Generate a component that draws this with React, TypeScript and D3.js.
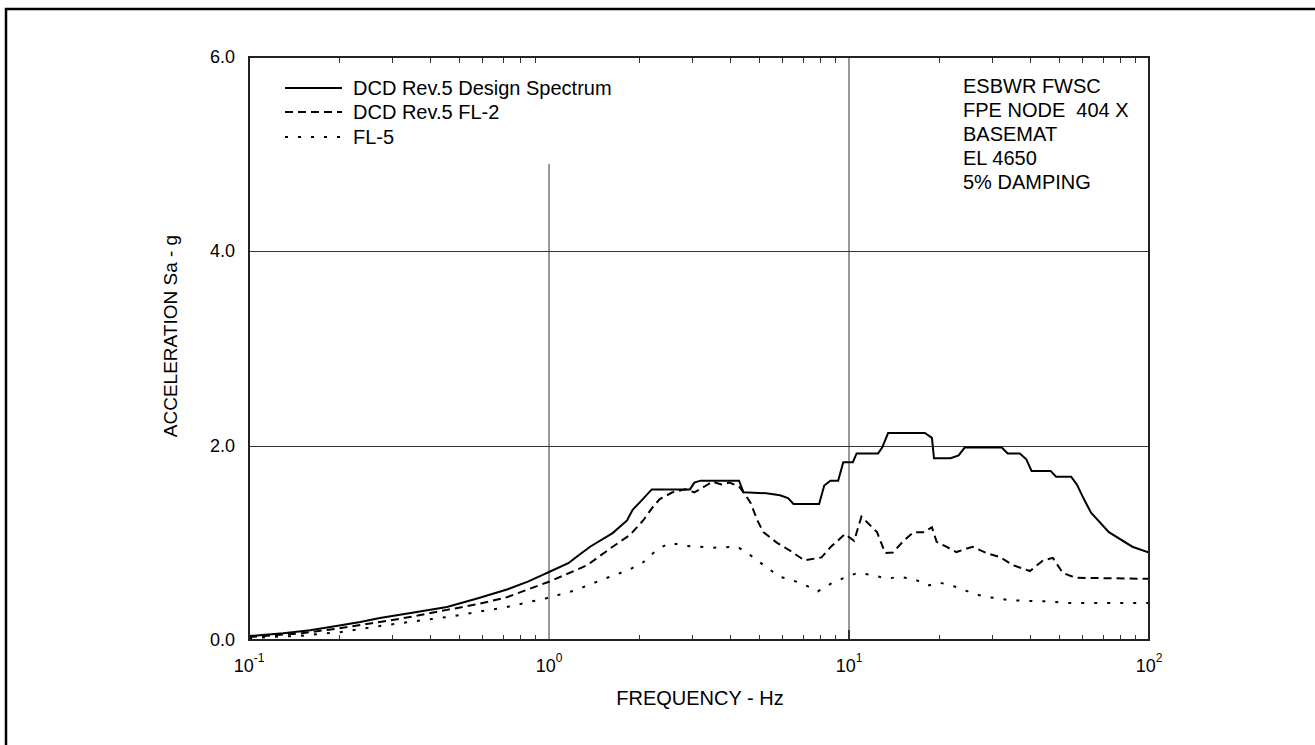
import React, { useRef, useEffect } from 'react';
import * as d3 from 'd3';

// DCD Rev.5 Design Spectrum
const designFreq = [0.1, 0.13, 0.16, 0.2, 0.235, 0.273, 0.35, 0.457, 0.58, 0.724, 0.85, 0.953, 1.0, 1.16, 1.24, 1.37, 1.63, 1.82, 1.9, 2.04, 2.2, 2.95, 3.05, 3.2, 4.3, 4.45, 5.3, 5.89, 6.26, 6.53, 7.95, 8.27, 8.67, 9.2, 9.57, 10.3, 10.6, 12.5, 12.9, 13.5, 17.9, 18.9, 19.2, 21.8, 23.2, 24.3, 32.3, 33.8, 37.1, 39.0, 40.6, 47.0, 49.0, 55.0, 57.5, 60.9, 64.1, 73.5, 88.0, 100];
const designAcc = [0.04, 0.07, 0.1, 0.15, 0.185, 0.226, 0.28, 0.34, 0.43, 0.52, 0.6, 0.67, 0.7, 0.79, 0.86, 0.96, 1.1, 1.23, 1.34, 1.44, 1.55, 1.55, 1.62, 1.64, 1.64, 1.52, 1.51, 1.49, 1.46, 1.4, 1.4, 1.59, 1.64, 1.64, 1.83, 1.83, 1.92, 1.92, 1.98, 2.13, 2.13, 2.08, 1.87, 1.87, 1.9, 1.98, 1.98, 1.92, 1.92, 1.86, 1.74, 1.74, 1.68, 1.68, 1.6, 1.44, 1.31, 1.11, 0.96, 0.9];

// DCD Rev.5 FL-2
const fl2Freq = [0.1, 0.15, 0.2, 0.273, 0.35, 0.457, 0.58, 0.724, 0.85, 1.0, 1.21, 1.34, 1.63, 1.86, 2.06, 2.22, 2.34, 2.58, 2.85, 3.05, 3.3, 3.5, 3.75, 4.0, 4.3, 4.5, 4.7, 4.95, 5.18, 5.76, 6.43, 7.1, 8.1, 8.7, 9.7, 10.4, 11.0, 12.4, 13.2, 14.0, 15.2, 16.4, 17.7, 18.9, 19.6, 21.1, 22.8, 25.8, 28.7, 31.8, 35.2, 40.1, 44.4, 47.8, 51.6, 57.0, 100];
const fl2Acc = [0.03, 0.07, 0.12, 0.185, 0.24, 0.31, 0.37, 0.44, 0.52, 0.6, 0.71, 0.77, 0.96, 1.08, 1.23, 1.37, 1.45, 1.52, 1.55, 1.52, 1.58, 1.63, 1.6, 1.62, 1.58, 1.5, 1.41, 1.23, 1.11, 1.0, 0.91, 0.82, 0.85, 0.96, 1.09, 1.02, 1.27, 1.11, 0.895, 0.9, 1.02, 1.11, 1.11, 1.16, 1.01, 0.96, 0.905, 0.96, 0.895, 0.855, 0.77, 0.71, 0.82, 0.845, 0.69, 0.64, 0.63];

// FL-5
const fl5Freq = [0.1, 0.15, 0.2, 0.273, 0.35, 0.467, 0.724, 0.98, 1.22, 1.5, 1.84, 2.06, 2.29, 2.53, 2.84, 3.5, 4.25, 4.75, 5.3, 5.89, 6.4, 7.1, 7.87, 8.7, 9.8, 10.7, 11.9, 13.4, 14.6, 16.4, 18.3, 20.1, 22.5, 24.9, 27.9, 31.0, 34.3, 42.1, 46.5, 52.3, 100];
const fl5Acc = [0.02, 0.045, 0.08, 0.144, 0.19, 0.24, 0.34, 0.43, 0.51, 0.62, 0.72, 0.8, 0.93, 1.0, 0.97, 0.95, 0.96, 0.86, 0.75, 0.65, 0.62, 0.57, 0.5, 0.58, 0.65, 0.69, 0.67, 0.63, 0.65, 0.63, 0.56, 0.59, 0.55, 0.5, 0.45, 0.43, 0.41, 0.4, 0.4, 0.38, 0.38];

const seriesNames = ['DCD Rev.5 Design Spectrum', 'DCD Rev.5 FL-2', 'FL-5'];
const yTicks = [0, 2, 4, 6];
const xDecades = [-1, 0, 1, 2];
const notes = ['ESBWR FWSC', 'FPE NODE  404 X', 'BASEMAT', 'EL 4650', '5% DAMPING'];

export default function App() {
  const chartRef = useRef(null);

  useEffect(() => {
    const left = 249, right = 1149, top = 57, bottom = 640;
    const font = "'Liberation Sans', Arial, sans-serif";

    const x = d3.scaleLog().domain([0.1, 100]).range([left, right]);
    const y = d3.scaleLinear().domain([0, 6]).range([bottom, top]);

    const svg = d3.select(chartRef.current).html('')
      .append('svg')
      .attr('width', 1315)
      .attr('height', 745)
      .style('position', 'absolute')
      .style('left', '0px')
      .style('top', '0px')
      .style('font-family', font);

    svg.append('rect').attr('width', 1315).attr('height', 745).attr('fill', '#fff');

    // outer border (only top/left visible)
    svg.append('rect')
      .attr('x', 6).attr('y', 9)
      .attr('width', 2000).attr('height', 2000)
      .attr('fill', 'none').attr('stroke', '#000').attr('stroke-width', 2.5);

    // grid
    const grid = svg.append('g').attr('stroke', '#333').attr('stroke-width', 1);
    [2, 4].forEach(v => {
      grid.append('line').attr('x1', left).attr('x2', right)
        .attr('y1', Math.round(y(v)) + 0.5).attr('y2', Math.round(y(v)) + 0.5);
    });
    grid.append('line').attr('x1', x(1)).attr('x2', x(1)).attr('y1', y(4.9)).attr('y2', bottom);
    grid.append('line').attr('x1', x(10)).attr('x2', x(10)).attr('y1', top).attr('y2', bottom);

    // minor ticks top / bottom
    const minor = [];
    [0.1, 1, 10].forEach(d => { for (let k = 2; k <= 9; k++) minor.push(d * k); });
    const ticks = svg.append('g').attr('stroke', '#333').attr('stroke-width', 1);
    minor.forEach(f => {
      const px = Math.round(x(f)) + 0.5;
      ticks.append('line').attr('x1', px).attr('x2', px).attr('y1', bottom).attr('y2', bottom - 5);
      ticks.append('line').attr('x1', px).attr('x2', px).attr('y1', top).attr('y2', top + 6);
    });
    ticks.append('line').attr('x1', x(10)).attr('x2', x(10)).attr('y1', bottom).attr('y2', bottom - 10).attr('stroke-width', 2);

    // curves
    const line = d3.line().x(d => x(d[0])).y(d => y(d[1])).curve(d3.curveLinear);
    const series = [
      { f: designFreq, a: designAcc, dash: null },
      { f: fl2Freq, a: fl2Acc, dash: '8,5' },
      { f: fl5Freq, a: fl5Acc, dash: '3,10' },
    ];
    svg.append('clipPath').attr('id', 'plotclip')
      .append('rect').attr('x', left).attr('y', top).attr('width', right - left).attr('height', bottom - top);
    const curves = svg.append('g').attr('clip-path', 'url(#plotclip)');
    series.forEach(s => {
      curves.append('path')
        .datum(s.f.map((f, i) => [f, s.a[i]]))
        .attr('fill', 'none')
        .attr('stroke', '#000')
        .attr('stroke-width', 2)
        .attr('stroke-dasharray', s.dash)
        .attr('d', line);
    });

    // frame
    svg.append('rect')
      .attr('x', left).attr('y', top)
      .attr('width', right - left).attr('height', bottom - top)
      .attr('fill', 'none').attr('stroke', '#222').attr('stroke-width', 2);

    // y tick labels
    yTicks.forEach(v => {
      svg.append('text')
        .attr('x', 235).attr('y', y(v) + 6)
        .attr('text-anchor', 'end')
        .attr('font-size', 18)
        .text(v.toFixed(1));
    });

    // x tick labels 10^n
    xDecades.forEach(n => {
      const t = svg.append('text')
        .attr('x', x(Math.pow(10, n)))
        .attr('y', 672)
        .attr('text-anchor', 'middle')
        .attr('font-size', 18);
      t.append('tspan').text('10');
      t.append('tspan').attr('font-size', 12).attr('dy', -10).text(String(n));
    });

    // axis titles
    svg.append('text')
      .attr('x', 700).attr('y', 705)
      .attr('text-anchor', 'middle')
      .attr('font-size', 20)
      .text('FREQUENCY - Hz');
    svg.append('text')
      .attr('transform', 'translate(177,336) rotate(-90)')
      .attr('text-anchor', 'middle')
      .attr('font-size', 19)
      .text('ACCELERATION Sa - g');

    // legend
    const legendY = [88, 112, 137];
    series.forEach((s, i) => {
      svg.append('line')
        .attr('x1', 285).attr('x2', 342)
        .attr('y1', legendY[i]).attr('y2', legendY[i])
        .attr('stroke', '#000').attr('stroke-width', 2)
        .attr('stroke-dasharray', s.dash);
      svg.append('text')
        .attr('x', 353).attr('y', legendY[i] + 7)
        .attr('font-size', 20)
        .text(seriesNames[i]);
    });

    // annotation
    notes.forEach((n, i) => {
      svg.append('text')
        .attr('x', 963).attr('y', 93 + i * 24)
        .attr('font-size', 20)
        .attr('xml:space', 'preserve')
        .style('white-space', 'pre')
        .text(n);
    });
  }, []);

  return (
    <div>
      <div ref={chartRef} style={{ width: '1315px', height: '745px' }}></div>
    </div>
  );
}
